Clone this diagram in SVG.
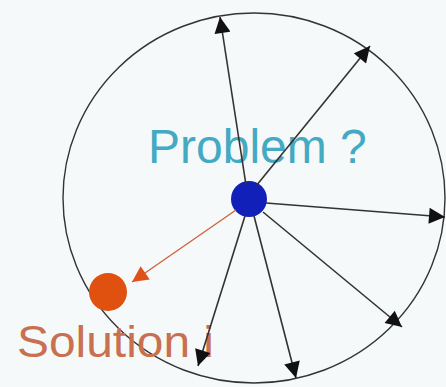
<svg xmlns="http://www.w3.org/2000/svg" width="446" height="387" viewBox="0 0 446 387">
<style>
.ray{stroke:#333;stroke-width:1.6;fill:none;marker-end:url(#ah)}
.sol{stroke:#d0603a;stroke-width:1.3;fill:none;marker-end:url(#ahr)}
text{font-family:"Liberation Sans",Arial,sans-serif}
</style>
<defs>
<marker id="ah" viewBox="0 0 10 10" refX="10" refY="5" markerWidth="17" markerHeight="16" markerUnits="userSpaceOnUse" orient="auto">
<path d="M0,0 L10,5 L0,10 z" fill="#111"/>
</marker>
<marker id="ahr" viewBox="0 0 10 10" refX="10" refY="5" markerWidth="17" markerHeight="16" markerUnits="userSpaceOnUse" orient="auto">
<path d="M0,0 L10,5 L0,10 z" fill="#e0501a"/>
</marker>
</defs>
<rect width="446" height="387" fill="#f5f9f9"/>
<g id="boundary">
<ellipse cx="254" cy="198" rx="191" ry="185" fill="none" stroke="#333" stroke-width="1.4"/>
</g>
<g id="problem">
<text x="148" y="163" font-size="48" fill="#44a9c2">Problem ?</text>
<circle cx="249" cy="199" r="18" fill="#1020b8"/>
</g>
<g id="solution">
<circle cx="108" cy="292" r="19" fill="#e0500f"/>
<text x="17" y="357" font-size="45" fill="#c8704f" textLength="197" lengthAdjust="spacingAndGlyphs">Solution i</text>
</g>
<g id="connectors">
<line class="ray" x1="246" y1="185" x2="220" y2="17"/>
<line class="ray" x1="256" y1="186" x2="370" y2="46"/>
<line class="ray" x1="266" y1="203" x2="445" y2="217"/>
<line class="ray" x1="263" y1="212" x2="402" y2="327"/>
<line class="ray" x1="254" y1="216" x2="296" y2="378"/>
<line class="ray" x1="245" y1="216" x2="198" y2="366"/>
<line class="sol" x1="236" y1="210" x2="132" y2="282"/>
</g>
</svg>
